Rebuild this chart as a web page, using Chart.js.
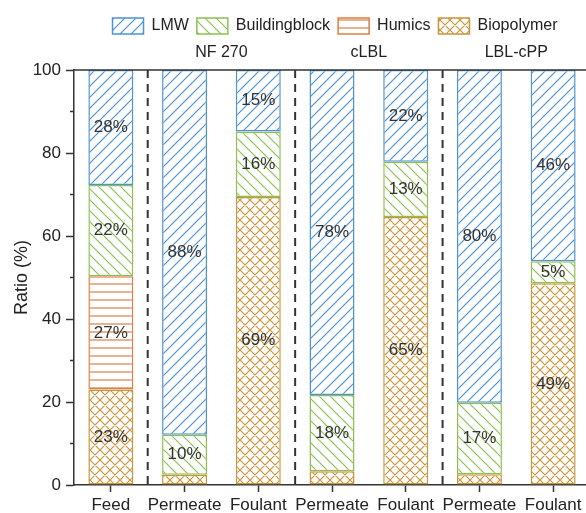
<!DOCTYPE html>
<html>
<head>
<meta charset="utf-8">
<script src="https://cdn.jsdelivr.net/npm/chart.js@4.4.0/dist/chart.umd.min.js"></script>
<style>
    html, body { margin: 0; padding: 0; background: #fff; overflow: hidden; }
    canvas { display: block; }
</style>
</head>
<body>
<canvas id="ratioChart" width="600" height="513"></canvas>
<script>
// Samples along the x axis
const categories = ['Feed', 'Permeate', 'Foulant', 'Permeate', 'Foulant', 'Permeate', 'Foulant'];
// Membranes, each one covers a Permeate + Foulant pair
const groups = ['NF 270', 'cLBL', 'LBL-cPP'];

// Ratio of each fraction in %, stacked from the bottom up
const biopolymer = [23, 2.5, 69.4, 3.3, 64.6, 2.6, 48.6];
const humics = [27.3, null, null, null, null, null, null];
const buildingblock = [22, 9.6, 15.8, 18.4, 13.3, 17.2, 5.3];
const lmw = [27.7, 87.9, 14.8, 78.3, 22.1, 80.2, 46.1];

const yTicks = [0, 20, 40, 60, 80, 100];
const yMinorTicks = [10, 30, 50, 70, 90];

Chart.defaults.font.family = '"Liberation Sans", Arial, sans-serif';
Chart.defaults.color = '#222';

// Hatch fills for the bars
function makePattern(color, kind) {
    const size = kind === 'horizontal' ? 8 : (kind === 'cross' ? 10 : 11);
    const c = document.createElement('canvas');
    c.width = size;
    c.height = size;
    const g = c.getContext('2d');
    g.fillStyle = '#fff';
    g.fillRect(0, 0, size, size);
    g.strokeStyle = color;
    g.lineWidth = 1.2;
    g.beginPath();
    if (kind === 'forward' || kind === 'cross') {
        g.moveTo(0, size); g.lineTo(size, 0);
        g.moveTo(-1, 1); g.lineTo(1, -1);
        g.moveTo(size - 1, size + 1); g.lineTo(size + 1, size - 1);
    }
    if (kind === 'back' || kind === 'cross') {
        g.moveTo(0, 0); g.lineTo(size, size);
        g.moveTo(-1, size - 1); g.lineTo(1, size + 1);
        g.moveTo(size - 1, -1); g.lineTo(size + 1, 1);
    }
    if (kind === 'horizontal') {
        g.moveTo(0, size / 2); g.lineTo(size, size / 2);
    }
    g.stroke();
    return g.createPattern(c, 'repeat');
}

const blue = '#4d92d3';
const green = '#8cc152';
const orange = '#dc7f42';
const tan = '#c8953c';

// Percent labels in the middle of each segment
const segmentLabels = {
    id: 'segmentLabels',
    afterDatasetsDraw(chart) {
        const ctx = chart.ctx;
        ctx.save();
        ctx.font = '17px "Liberation Sans", Arial, sans-serif';
        ctx.fillStyle = '#333';
        ctx.textAlign = 'center';
        ctx.textBaseline = 'middle';
        chart.data.datasets.forEach((ds, i) => {
            chart.getDatasetMeta(i).data.forEach((bar, j) => {
                const v = ds.data[j];
                if (v == null || v < 4) return;
                ctx.fillText(Math.round(v) + '%', bar.x, (bar.y + bar.base) / 2);
            });
        });
        ctx.restore();
    }
};

// Top frame, minor ticks, dashed separators and membrane names
const groupMarks = {
    id: 'groupMarks',
    afterDraw(chart) {
        const { ctx, chartArea, scales: { x, y } } = chart;
        ctx.save();
        ctx.strokeStyle = '#333';
        ctx.lineWidth = 1.5;
        ctx.beginPath();
        ctx.moveTo(chartArea.left, chartArea.top);
        ctx.lineTo(chart.width, chartArea.top);
        yMinorTicks.forEach(v => {
            const py = y.getPixelForValue(v);
            ctx.moveTo(chartArea.left - 4, py);
            ctx.lineTo(chartArea.left, py);
        });
        ctx.stroke();

        ctx.lineWidth = 2;
        ctx.setLineDash([8, 6]);
        [0, 2, 4].forEach(i => {
            const px = (x.getPixelForValue(i) + x.getPixelForValue(i + 1)) / 2;
            ctx.beginPath();
            ctx.moveTo(px, chartArea.top);
            ctx.lineTo(px, chartArea.bottom);
            ctx.stroke();
        });
        ctx.setLineDash([]);

        ctx.font = '16px "Liberation Sans", Arial, sans-serif';
        ctx.fillStyle = '#222';
        ctx.textAlign = 'center';
        ctx.textBaseline = 'middle';
        groups.forEach((name, k) => {
            const px = (x.getPixelForValue(1 + 2 * k) + x.getPixelForValue(2 + 2 * k)) / 2;
            ctx.fillText(name, px, chartArea.top - 17);
        });
        ctx.restore();
    }
};

// Room under the legend for the membrane names, and move it to the right
const legendPlace = {
    id: 'legendPlace',
    beforeInit(chart) {
        const fit = chart.legend.fit;
        chart.legend.fit = function () {
            fit.bind(chart.legend)();
            this.height += 26;
        };
    },
    afterLayout(chart) {
        chart.legend.left += 40;
        chart.legend.right += 40;
    }
};

function makeDataset(label, data, color, kind) {
    return {
        label: label,
        data: data,
        backgroundColor: makePattern(color, kind),
        borderColor: color,
        borderWidth: 1.5,
        borderSkipped: false,
        barPercentage: 0.61,
        categoryPercentage: 1
    };
}

const ratioCtx = document.getElementById('ratioChart').getContext('2d');
const ratioChart = new Chart(ratioCtx, {
    type: 'bar',
    data: {
        labels: categories,
        datasets: [
            makeDataset('Biopolymer', biopolymer, tan, 'cross'),
            makeDataset('Humics', humics, orange, 'horizontal'),
            makeDataset('Buildingblock', buildingblock, green, 'back'),
            makeDataset('LMW', lmw, blue, 'forward')
        ]
    },
    options: {
        responsive: false,
        animation: false,
        layout: { padding: { top: 10, right: 10, left: 0, bottom: 0 } },
        plugins: {
            tooltip: { enabled: false },
            legend: {
                position: 'top',
                reverse: true,
                labels: {
                    boxWidth: 31,
                    boxHeight: 16,
                    padding: 8,
                    color: '#222',
                    font: { size: 16 }
                }
            }
        },
        scales: {
            x: {
                stacked: true,
                offset: true,
                afterFit(scale) { scale.height = 28; },
                grid: { offset: false, drawOnChartArea: false, tickLength: 7, tickColor: '#333', tickWidth: 1.5 },
                border: { color: '#333', width: 1.5 },
                ticks: { font: { size: 17 }, color: '#222', padding: 3, maxRotation: 0, autoSkip: false }
            },
            y: {
                stacked: true,
                min: 0,
                max: 100,
                afterFit(scale) { scale.width = 74; },
                afterBuildTicks(scale) { scale.ticks = yTicks.map(v => ({ value: v })); },
                grid: { drawOnChartArea: false, tickLength: 8, tickColor: '#333', tickWidth: 1.5 },
                border: { color: '#333', width: 1.5 },
                ticks: { font: { size: 17 }, color: '#222', padding: 5 },
                title: {
                    display: true,
                    text: 'Ratio (%)',
                    font: { size: 18 },
                    color: '#222',
                    padding: { top: 11, bottom: 0 }
                }
            }
        }
    },
    plugins: [segmentLabels, groupMarks, legendPlace]
});
</script>
</body>
</html>
